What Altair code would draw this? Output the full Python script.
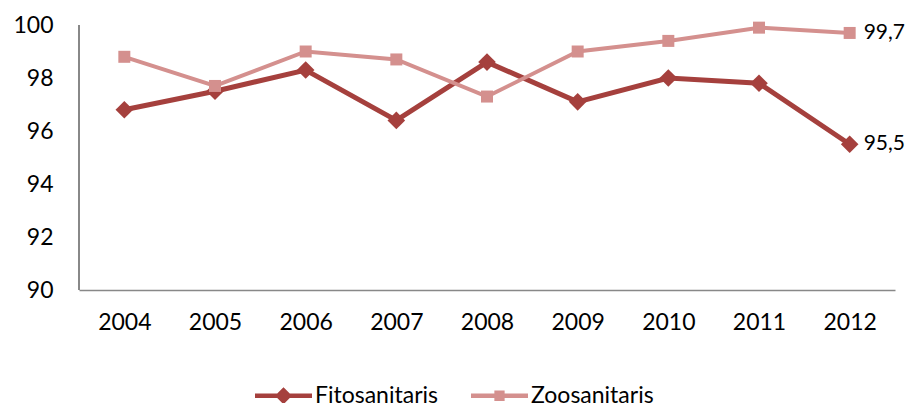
import altair as alt
import pandas as pd

years = ["2004", "2005", "2006", "2007", "2008", "2009", "2010", "2011", "2012"]
fito = [96.8, 97.5, 98.3, 96.4, 98.6, 97.1, 98.0, 97.8, 95.5]
zoo = [98.8, 97.7, 99.0, 98.7, 97.3, 99.0, 99.4, 99.9, 99.7]
series = ["Fitosanitaris", "Zoosanitaris"]
colors = ["#A5403D", "#D4908E"]
y_ticks = [90, 92, 94, 96, 98, 100]

rows = []
for s, vals in zip(series, [fito, zoo]):
    for yr, v in zip(years, vals):
        rows.append({"year": yr, "serie": s, "value": v,
                     "label": f"{v:.1f}".replace(".", ",")})
df = pd.DataFrame(rows)

FONT = "Lato"
FS = 23
W, H = 816, 265

xscale = alt.Scale(domain=years, padding=0.5)
yscale = alt.Scale(domain=[90, 100], nice=False, zero=False)

x = alt.X("year:O", title=None, scale=xscale,
          axis=alt.Axis(orient="bottom", labelAngle=0, ticks=False, labelPadding=21,
                        grid=False, domainColor="#888888", domainWidth=1.5,
                        labelFontSize=FS, labelFont=FONT, labelColor="#000000"))
y = alt.Y("value:Q", title=None, scale=yscale,
          axis=alt.Axis(orient="left", values=y_ticks, grid=False, ticks=False, labelPadding=26,
                        domain=False,
                        labelFontSize=FS, labelFont=FONT, labelColor="#000000"))

color_nl = alt.Color("serie:N", scale=alt.Scale(domain=series, range=colors), legend=None)

y_domain_line = alt.Chart(df).mark_rule(color="#888888", strokeWidth=1.5).encode(
    x=alt.value(0), y=alt.value(0), y2=alt.value(H)
)

lines = alt.Chart(df).mark_line().encode(
    x=x, y=y, color=color_nl,
    strokeWidth=alt.StrokeWidth("serie:N", scale=alt.Scale(domain=series, range=[5, 4]), legend=None),
)

points = alt.Chart(df).mark_point(filled=True, opacity=1).encode(
    x=x, y=y, color=color_nl,
    shape=alt.Shape("serie:N", scale=alt.Scale(domain=series, range=["diamond", "square"]), legend=None),
    size=alt.Size("serie:N", scale=alt.Scale(domain=series, range=[310, 144]), legend=None),
)

diamond_path = ("M-1,-0.08H-0.22L0,-0.3L0.22,-0.08H1V0.08H0.22L0,0.3L-0.22,0.08H-1Z")
square_path = ("M-1,-0.08H-0.18V-0.18H0.18V-0.08H1V0.08H0.18V0.18H-0.18V0.08H-1Z")

leg = alt.Legend(orient="none", legendX=176, legendY=342,
                 direction="horizontal", title=None,
                 symbolSize=3249, symbolOpacity=1, symbolStrokeWidth=0,
                 labelFontSize=FS, labelFont=FONT, labelColor="#000000",
                 labelOffset=3, columnPadding=33, padding=0)

legend_layer = alt.Chart(df).mark_point(filled=True, opacity=0, size=3249).encode(
    x=x, y=y,
    color=alt.Color("serie:N", scale=alt.Scale(domain=series, range=colors), legend=leg),
    shape=alt.Shape("serie:N", scale=alt.Scale(domain=series, range=[diamond_path, square_path]),
                    legend=leg),
)

labels = alt.Chart(df).transform_filter(alt.datum.year == "2012").mark_text(
    align="left", baseline="middle", dx=14, fontSize=21, font=FONT, color="#000000"
).encode(x=x, y=y, text="label:N")

chart = alt.layer(lines, points, labels, legend_layer, y_domain_line).resolve_scale(
    color="independent", shape="independent", size="independent", strokeWidth="independent"
).properties(
    width=W, height=H,
    background="white",
    view=alt.ViewBackground(stroke="transparent", strokeWidth=0),
    autosize=alt.AutoSizeParams(type="none"),
    padding={"left": 71, "top": 17, "right": 11, "bottom": 113},
).configure_view(
    strokeWidth=0, stroke="transparent", strokeOpacity=0
).configure_axis(grid=False).configure_axisRight(domain=False, labels=False).configure_axisTop(domain=False, labels=False)

chart.save("out.html", embed_options={"renderer": "svg", "actions": False})
